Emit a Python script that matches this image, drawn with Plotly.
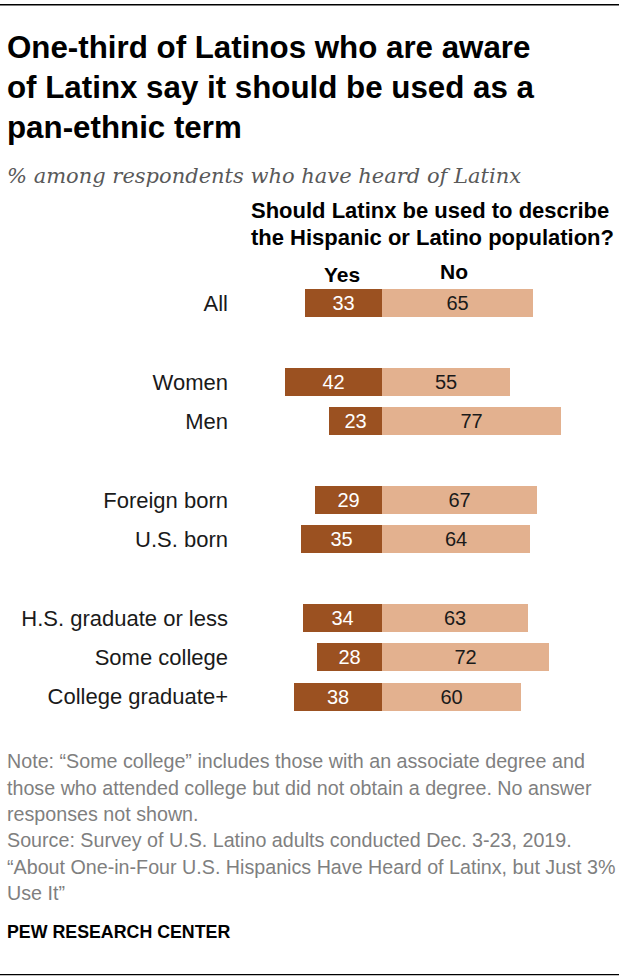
import plotly.graph_objects as go

# ---- data ----
groups = [
    ["All"],
    ["Women", "Men"],
    ["Foreign born", "U.S. born"],
    ["H.S. graduate or less", "Some college", "College graduate+"],
]
yes_vals = [33, 42, 23, 29, 35, 34, 28, 38]
no_vals = [65, 55, 77, 67, 64, 63, 72, 60]

title_lines = ["One-third of Latinos who are aware",
               "of Latinx say it should be used as a",
               "pan-ethnic term"]
subtitle = "% among respondents who have heard of Latinx"
header_lines = ["Should Latinx be used to describe",
                "the Hispanic or Latino population?"]
note_lines = [
    "Note: \u201cSome college\u201d includes those with an associate degree and",
    "those who attended college but did not obtain a degree. No answer",
    "responses not shown.",
    "Source: Survey of U.S. Latino adults conducted Dec. 3-23, 2019.",
    "\u201cAbout One-in-Four U.S. Hispanics Have Heard of Latinx, but Just 3%",
    "Use It\u201d",
]
credit = "PEW RESEARCH CENTER"

YES_COLOR = "#9b5121"
NO_COLOR = "#e3b18f"
SANS = "Liberation Sans, Arial, sans-serif"

# category positions with a blank row between groups
cats, ypos = [], []
pos = 0
for gi, g in enumerate(groups):
    if gi > 0:
        pos += 1
    for c in g:
        cats.append(c)
        ypos.append(pos)
        pos += 1

W, H = 620, 978
ML, MR, MT = 237, 0, 264
ROW = 39.3
y_lo, y_hi = -1, 11
plot_h = (y_hi - y_lo) * ROW
MB = H - MT - plot_h
plot_w = W - ML - MR
PXU = 2.32
x_lo = -(382 - ML) / PXU
x_hi = (W - 382) / PXU


def px_x(px):
    return (px - ML) / plot_w


def px_y(py):
    return (H - MB - py) / plot_h


fig = go.Figure()
fig.add_trace(go.Bar(
    y=ypos, x=[-v for v in yes_vals], orientation="h",
    marker=dict(color=YES_COLOR, line=dict(width=0)),
    text=[str(v) for v in yes_vals], textposition="inside",
    insidetextanchor="middle",
    textfont=dict(color="white", size=20, family=SANS),
    width=0.72, hoverinfo="skip", name="Yes",
))
fig.add_trace(go.Bar(
    y=ypos, x=no_vals, orientation="h",
    marker=dict(color=NO_COLOR, line=dict(width=0)),
    text=[str(v) for v in no_vals], textposition="inside",
    insidetextanchor="middle",
    textfont=dict(color="#1a1a1a", size=20, family=SANS),
    width=0.72, hoverinfo="skip", name="No",
))

ann = []
for i, t in enumerate(title_lines):
    ann.append(dict(text=t, x=px_x(5), y=px_y(48 + 40 * i), xref="paper", yref="paper",
                    xanchor="left", yanchor="middle", showarrow=False,
                    font=dict(size=31.3, family=SANS, color="#000000", weight="bold")))
ann.append(dict(text=subtitle, x=px_x(5), y=px_y(176), xref="paper", yref="paper",
                xanchor="left", yanchor="middle", showarrow=False,
                font=dict(size=21, family="DejaVu Serif, Georgia, serif", color="#595959", style="italic")))
for i, t in enumerate(header_lines):
    ann.append(dict(text=t, x=px_x(249), y=px_y(211 + 27 * i), xref="paper", yref="paper",
                    xanchor="left", yanchor="middle", showarrow=False,
                    font=dict(size=22, family=SANS, color="#000000", weight="bold")))
ann.append(dict(text="Yes", x=px_x(342), y=px_y(274), xref="paper", yref="paper",
                xanchor="center", yanchor="middle", showarrow=False,
                font=dict(size=21, family=SANS, color="#000000", weight="bold")))
ann.append(dict(text="No", x=px_x(454), y=px_y(271), xref="paper", yref="paper",
                xanchor="center", yanchor="middle", showarrow=False,
                font=dict(size=21, family=SANS, color="#000000", weight="bold")))
for i, t in enumerate(note_lines):
    ann.append(dict(text=t, x=px_x(5), y=px_y(761 + 26.3 * i), xref="paper", yref="paper",
                    xanchor="left", yanchor="middle", showarrow=False,
                    font=dict(size=19.7, family=SANS, color="#7f7f7f")))
ann.append(dict(text=credit, x=px_x(5), y=px_y(931), xref="paper", yref="paper",
                xanchor="left", yanchor="middle", showarrow=False,
                font=dict(size=17.8, family=SANS, color="#000000", weight="bold")))

shapes = [
    dict(type="rect", xref="paper", yref="paper", x0=px_x(0), x1=px_x(W - 1),
         y0=px_y(4.3), y1=px_y(5.7), fillcolor="#000000", line=dict(width=0)),
    dict(type="rect", xref="paper", yref="paper", x0=px_x(0), x1=px_x(W - 1),
         y0=px_y(973.3), y1=px_y(974.7), fillcolor="#000000", line=dict(width=0)),
]

fig.update_layout(
    width=W, height=H, barmode="relative", bargap=0,
    margin=dict(l=ML, r=MR, t=MT, b=MB, pad=0),
    paper_bgcolor="white", plot_bgcolor="white", showlegend=False,
    annotations=ann, shapes=shapes,
    xaxis=dict(range=[x_lo, x_hi], visible=False, fixedrange=True),
    yaxis=dict(range=[y_hi, y_lo], tickvals=ypos, ticktext=cats, showgrid=False,
               zeroline=False, showline=False, ticks="", ticklabelstandoff=8,
               tickfont=dict(size=22, family=SANS, color="#1a1a1a"),
               fixedrange=True),
    uniformtext=dict(mode="show", minsize=10),
)

fig.write_html("out.html", config={"displayModeBar": False},
               post_script="document.body.style.margin='0';"
                           "document.documentElement.style.overflow='hidden';"
                           "document.body.style.overflow='hidden';")
